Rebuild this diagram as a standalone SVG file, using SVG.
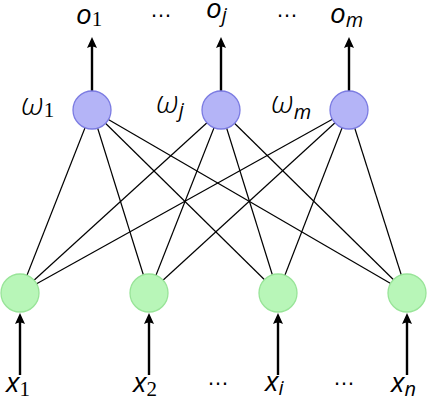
<svg xmlns="http://www.w3.org/2000/svg" width="427" height="400" viewBox="0 0 427 400">
<style>
.edge{stroke:#000;stroke-width:1.2;fill:none}
.arr{stroke:#000;stroke-width:2.4;fill:none}
.out{fill:#b4b4f7;stroke:#7b7be2;stroke-width:1.3}
.in{fill:#b8f6b8;stroke:#98e498;stroke-width:1.3}
.lbl{font-family:"Open Sans","Noto Sans",sans-serif;font-style:italic;font-weight:400;font-size:28px;fill:#000}
.w{font-size:32px;font-weight:300}
.sub{font-size:20px;font-weight:400}
.num{font-family:"Liberation Serif",serif;font-style:normal;font-weight:400;font-size:21px}
.dots{font-family:"Liberation Sans",sans-serif;font-size:22px;fill:#000}
</style>
<defs>
<marker id="ah" markerUnits="userSpaceOnUse" markerWidth="14" markerHeight="14" viewBox="-1 -7 14 14" refX="3" refY="0" orient="auto">
<path d="M11,0 L0,-5 Q3,0 0,5 Z" fill="#000"/>
</marker>
</defs>
<g id="connectors">
<line class="edge" x1="20" y1="293" x2="92" y2="110"/>
<line class="edge" x1="20" y1="293" x2="221" y2="110"/>
<line class="edge" x1="20" y1="293" x2="349" y2="110"/>
<line class="edge" x1="149" y1="293" x2="92" y2="110"/>
<line class="edge" x1="149" y1="293" x2="221" y2="110"/>
<line class="edge" x1="149" y1="293" x2="349" y2="110"/>
<line class="edge" x1="278" y1="293" x2="92" y2="110"/>
<line class="edge" x1="278" y1="293" x2="221" y2="110"/>
<line class="edge" x1="278" y1="293" x2="349" y2="110"/>
<line class="edge" x1="407" y1="293" x2="92" y2="110"/>
<line class="edge" x1="407" y1="293" x2="221" y2="110"/>
<line class="edge" x1="407" y1="293" x2="349" y2="110"/>
<line class="arr" x1="92" y1="91" x2="92" y2="45" marker-end="url(#ah)"/>
<line class="arr" x1="221" y1="91" x2="221" y2="45" marker-end="url(#ah)"/>
<line class="arr" x1="349" y1="91" x2="349" y2="45" marker-end="url(#ah)"/>
<line class="arr" x1="20" y1="375" x2="20" y2="321" marker-end="url(#ah)"/>
<line class="arr" x1="149" y1="375" x2="149" y2="321" marker-end="url(#ah)"/>
<line class="arr" x1="278" y1="375" x2="278" y2="321" marker-end="url(#ah)"/>
<line class="arr" x1="407" y1="375" x2="407" y2="321" marker-end="url(#ah)"/>
</g>
<g id="out1"><circle class="out" cx="92" cy="110" r="19"/><text class="lbl w" x="21" y="115">ω<tspan class="num" dy="2">1</tspan></text></g>
<g id="outj"><circle class="out" cx="221" cy="110" r="19"/><text class="lbl w" x="156" y="113">ω<tspan class="sub" dy="4">j</tspan></text></g>
<g id="outm"><circle class="out" cx="349" cy="110" r="19"/><text class="lbl w" x="271" y="113">ω<tspan class="sub" dy="6">m</tspan></text></g>
<g id="in1"><circle class="in" cx="20" cy="293" r="19"/></g>
<g id="in2"><circle class="in" cx="149" cy="293" r="19"/></g>
<g id="ini"><circle class="in" cx="278" cy="293" r="19"/></g>
<g id="inn"><circle class="in" cx="407" cy="293" r="19"/></g>
<g id="outputs">
<text class="lbl" x="76" y="24">o<tspan class="num" dy="2">1</tspan></text>
<text class="dots" x="150" y="17">…</text>
<text class="lbl" x="206" y="18">o<tspan class="sub" dy="4">j</tspan></text>
<text class="dots" x="276" y="17">…</text>
<text class="lbl" x="330" y="23">o<tspan class="sub" dy="4">m</tspan></text>
</g>
<g id="inputs">
<text class="lbl" x="6" y="392">x<tspan class="num" dy="4">1</tspan></text>
<text class="lbl" x="133" y="392">x<tspan class="num" dy="4">2</tspan></text>
<text class="dots" x="207" y="385">…</text>
<text class="lbl" x="265" y="391">x<tspan class="sub" dy="4">i</tspan></text>
<text class="dots" x="333" y="385">…</text>
<text class="lbl" x="391" y="392">x<tspan class="sub" dy="4">n</tspan></text>
</g>
</svg>
